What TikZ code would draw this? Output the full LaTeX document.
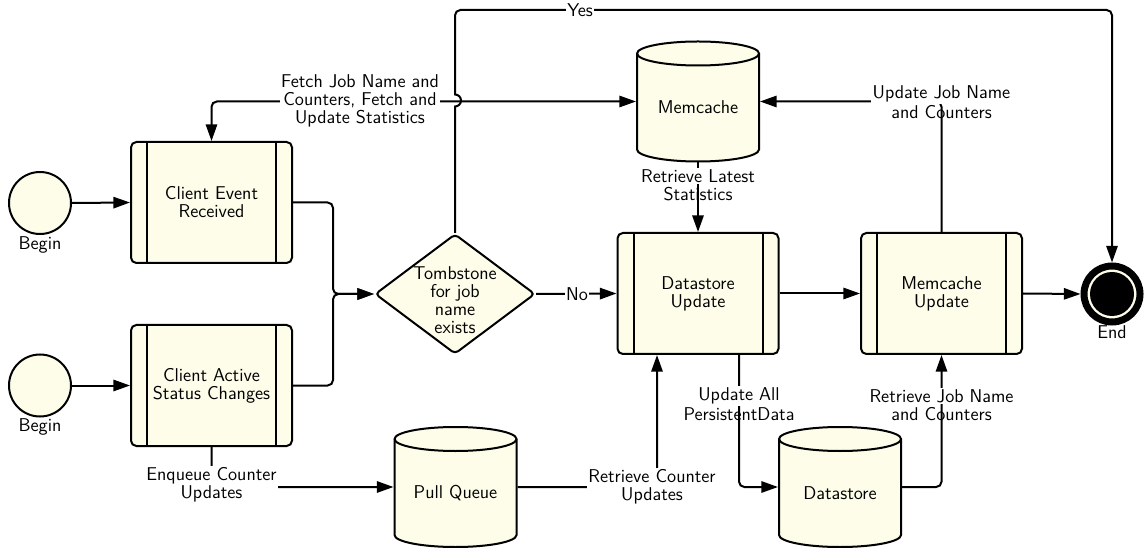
\documentclass[tikz,border=0pt]{standalone}
\usepackage{fontspec}
\usetikzlibrary{shapes.geometric,arrows.meta}
\definecolor{cream}{HTML}{FDFDEA}
\tikzset{
  proc/.style={draw, fill=cream, line width=1.5pt, rounded corners=4pt,
    minimum width=120.75pt, minimum height=90.75pt, align=center, inner sep=0pt,
    path picture={\draw[line width=1.5pt]
      ([xshift=12pt]path picture bounding box.north west) -- ([xshift=12pt]path picture bounding box.south west)
      ([xshift=-12pt]path picture bounding box.north east) -- ([xshift=-12pt]path picture bounding box.south east);}},
  startev/.style={circle, draw, fill=cream, line width=1.5pt, minimum size=46.5pt, inner sep=0pt,
    label={[inner sep=1pt]below:Begin}},
  endev/.style={circle, draw, fill=cream, line width=5.25pt, minimum size=42pt, inner sep=0pt},
  decision/.style={diamond, draw, fill=cream, line width=1.5pt, rounded corners=3pt,
    minimum width=120pt, minimum height=90pt, inner sep=0pt},
  cylbox/.style={minimum width=91.5pt, minimum height=90pt, inner sep=0pt, outer sep=0.75pt},
  conn/.style={line width=1.5pt},
  lbl/.style={fill=white, inner sep=1pt, align=center},
  lblplain/.style={inner sep=1pt, align=center},
  >={Triangle[length=12.5pt,width=8.5pt]}
}
\newcommand\dbcyl[4]{%
  \begin{scope}[shift={(#2,#3)}]
    \filldraw[line width=1.5pt, fill=cream] (-61,-48) -- (-61,48)
      arc[start angle=180, end angle=360, x radius=45.75pt, y radius=9pt]
      -- (61,-48) arc[start angle=0, end angle=180, x radius=45.75pt, y radius=9pt] -- cycle;
    \draw[line width=1.5pt] (61,-48) arc[start angle=360, end angle=180, x radius=45.75pt, y radius=9pt];
  \end{scope}
  \node[cylbox, label={[yshift=-4.5pt]center:#4}] (#1) at (#2,#3) {};
}
\begin{document}
\begin{tikzpicture}[x=0.75pt, y=-0.75pt, font=\fontsize{13.9}{13.5}\selectfont\sffamily]
\useasboundingbox (0,0) rectangle (1144,548);

% nodes
\node[startev] (b1) at (40,203) {};
\node[startev] (b2) at (40,385.5) {};
\node[proc] (cevt) at (211.5,202.5) {Client Event\\Received};
\node[proc] (cact) at (211.5,385.5) {Client Active\\Status Changes};
\node[decision] (dia) at (455,294) {};
\node[align=center] (diatxt) at (455,300) {Tombstone\\for job\\name\\exists};
\node[proc] (dsu) at (698,293.5) {Datastore\\Update};
\node[proc] (mcu) at (941.5,293.5) {Memcache\\Update};
\node[endev, label={[inner sep=0pt]below:End}] (end) at (1112,294) {};
\fill (end.center) circle[radius=16.5pt];
\dbcyl{mem}{698}{101.5}{Memcache}
\dbcyl{pq}{455.5}{487}{Pull Queue}
\dbcyl{dstore}{840}{487}{Datastore}

\coordinate (join) at (333,294);

% connectors
\draw[conn,->] (b1.east) -- (cevt.west);
\draw[conn,->] (b2.east) -- (cact.west);
\draw[conn,->,rounded corners=4pt] (cevt.east) -| (join) -- (dia.west);
\draw[conn,->,rounded corners=4pt] (cact.east) -| (join) -- (dia.west);
\draw[conn,->] (dia.north) -- (455,106.5) arc[start angle=-90, end angle=90, radius=4.5pt]
  [rounded corners=4pt] -- (455,10) -- (1112,10) -- (end.north);
\draw[conn,<->,rounded corners=4pt] (mem.west) -| (cevt.north);
\draw[conn,->] (dia.east) -- (dsu.west);
\draw[conn,->] (mem.south) -- (dsu.north);
\draw[conn,->,rounded corners=4pt] (mcu.north) |- (mem.east);
\draw[conn,->] (dsu.east) -- (mcu.west);
\draw[conn,->] (mcu.east) -- (end.west);
\draw[conn,->,rounded corners=4pt] (cact.south) |- (pq.west);
\draw[conn,->,rounded corners=4pt] (pq.east) -| ([xshift=-30.75pt]dsu.south);
\draw[conn,->,rounded corners=4pt] ([xshift=30.75pt]dsu.south) |- (dstore.west);
\draw[conn,->,rounded corners=4pt] (dstore.east) -| (mcu.south);

% labels
\node[lbl] (lyes) at (580,10) {Yes};
\node[lbl] (lno) at (577,294) {No};
\node[lbl] (lfetch) at (360,101) {Fetch Job Name and\\Counters, Fetch and\\Update Statistics};
\node[lbl] (lret1) at (698,176) {Retrieve Latest};
\node[lblplain] (lret2) at (698,194) {Statistics};
\node[lbl] (lupd1) at (941.5,94) {Update Job Name};
\node[lblplain] (lupd2) at (941.5,112) {and Counters};
\node[lbl] (lenq) at (211.5,484.5) {Enqueue Counter\\Updates};
\node[lbl] (lrcu) at (652,487) {Retrieve Counter\\Updates};
\node[lbl] (lall1) at (739,396) {Update All};
\node[lblplain] (lall2) at (739,414) {PersistentData};
\node[lbl] (lrjn1) at (941.5,396) {Retrieve Job Name};
\node[lblplain] (lrjn2) at (941.5,414) {and Counters};
\end{tikzpicture}
\end{document}
